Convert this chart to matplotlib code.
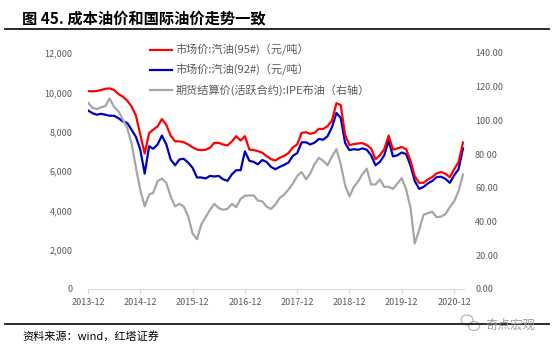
import matplotlib
matplotlib.use('Agg')
import matplotlib.pyplot as plt
import matplotlib.dates as mdates
from matplotlib.lines import Line2D
from matplotlib.patches import Ellipse
from matplotlib.ticker import FuncFormatter
import pandas as pd

plt.rcParams['font.family'] = ['Noto Sans CJK SC', 'DejaVu Sans']

# 月度数据, 2013-12 起
months = pd.date_range('2013-12-01', periods=87, freq='MS')

# 市场价:汽油(95#) 元/吨
gas95 = [10060, 10050, 10070, 10110, 10180, 10200, 10120, 9920, 9780, 9580,
         9280, 8810, 7850, 6890, 7930, 8100, 8270, 8640, 8350, 7800,
         7510, 7510, 7460, 7350, 7210, 7090, 7060, 7080, 7180, 7430,
         7430, 7350, 7300, 7500, 7770, 7550, 7770, 7090, 7060, 7010,
         6930, 6760, 6600, 6530, 6670, 6770, 6910, 7200, 7350, 7940,
         7970, 7890, 7940, 8140, 8140, 8280, 8570, 9450, 9350, 7830,
         7320, 7370, 7400, 7420, 7320, 7150, 6600, 6800, 7110, 7800,
         7080, 7150, 7220, 7110, 6510, 5740, 5400, 5400, 5570, 5690,
         5880, 5950, 5860, 5690, 6090, 6450, 7450]

# 市场价:汽油(92#) 元/吨
gas92 = [9080, 8940, 8860, 8910, 8860, 8810, 8810, 8690, 8520, 8440,
         8100, 7730, 7090, 5870, 7260, 7130, 7350, 7800, 7350, 6590,
         6290, 6590, 6620, 6420, 6170, 5670, 5670, 5620, 5750, 5720,
         5750, 5580, 5500, 5830, 6040, 6040, 7000, 6520, 6460, 6340,
         6560, 6460, 6210, 6090, 6210, 6310, 6430, 6770, 6910, 7460,
         7460, 7350, 7440, 7630, 7590, 7770, 8230, 8950, 8700, 7420,
         7060, 7110, 7080, 7150, 7080, 6800, 6290, 6460, 6800, 7540,
         6740, 6800, 6940, 6860, 6260, 5490, 5090, 5190, 5370, 5490,
         5690, 5710, 5600, 5400, 5780, 6090, 7150]

# 期货结算价(活跃合约):IPE布油 (右轴)
brent = [110.5, 107.5, 106.7, 107.8, 108.5, 113.0, 108.0, 105.5, 100.6, 95.5,
         86.5, 72.0, 58.8, 49.0, 56.0, 57.0, 64.0, 65.5, 63.0, 55.0,
         49.0, 50.5, 48.9, 43.0, 33.0, 29.5, 38.5, 42.5, 47.0, 50.5,
         48.0, 47.0, 47.5, 50.5, 48.5, 53.5, 55.3, 55.5, 55.5, 52.5,
         52.0, 48.9, 47.5, 50.0, 54.0, 56.0, 59.0, 62.6, 67.0, 69.4,
         65.0, 68.4, 74.0, 77.8, 76.0, 73.4, 78.6, 83.0, 74.0, 61.4,
         55.0, 60.6, 64.0, 68.0, 71.4, 62.0, 62.0, 65.0, 60.6, 60.6,
         59.4, 62.6, 65.8, 59.0, 48.0, 27.0, 35.0, 44.0, 45.0, 45.8,
         42.6, 43.0, 44.4, 48.6, 52.0, 58.0, 68.0]

labels = ['市场价:汽油(95#)（元/吨）',
          '市场价:汽油(92#)（元/吨）',
          '期货结算价(活跃合约):IPE布油（右轴）']
tick_dates = pd.date_range('2013-12-01', '2020-12-01', freq='12MS')

W, H = 554, 347
fig = plt.figure(figsize=(W / 100, H / 100), dpi=100)
ax = fig.add_axes([88 / W, 58 / H, 376 / W, 236 / H])
ax2 = ax.twinx()

l1, = ax.plot(months, gas95, color='#ff0000', lw=1.6, zorder=3)
l2, = ax.plot(months, gas92, color='#0000c0', lw=1.6, zorder=2)
l3, = ax2.plot(months, brent, color='#a6a6a6', lw=1.6)

ax.set_xlim(months[0], pd.Timestamp('2021-02-08'))
ax.set_ylim(0, 12000)
ax2.set_ylim(0, 140)
ax.set_yticks(range(0, 12001, 2000))
ax2.set_yticks(range(0, 141, 20))
ax.yaxis.set_major_formatter(FuncFormatter(lambda v, p: f'{v:,.0f}'))
ax2.yaxis.set_major_formatter(FuncFormatter(lambda v, p: f'{v:.2f}'))
ax.set_xticks(tick_dates)
ax.xaxis.set_major_formatter(mdates.DateFormatter('%Y-%m'))

for a in (ax, ax2):
    for s in ('top', 'left', 'right'):
        a.spines[s].set_visible(False)
ax2.spines['bottom'].set_visible(False)
ax.spines['bottom'].set_color('#d9d9d9')

ax.tick_params(axis='x', direction='out', length=3.5, color='#d9d9d9',
               labelsize=6.5, labelcolor='#595959', pad=3)
ax.tick_params(axis='y', length=0, labelsize=6.5, labelcolor='#595959', pad=11)
ax2.tick_params(axis='y', length=0, labelsize=6.5, labelcolor='#595959', pad=8)

fig.legend([l1, l2, l3], labels, loc='upper left',
           bbox_to_anchor=(150 / W, 1 - 44 / H), frameon=False, fontsize=8,
           handlelength=2.0, handletextpad=0.3, labelspacing=0.75,
           borderpad=0, borderaxespad=0, labelcolor='#595959')

fig.text(22 / W, 1 - 18 / H, '图 45. 成本油价和国际油价走势一致',
         fontsize=11, fontweight='bold', va='center', ha='left')
fig.add_artist(Line2D([5 / W, 549 / W], [1 - 28.5 / H] * 2, color='#1a1a1a', lw=1.3))
fig.add_artist(Line2D([5 / W, 549 / W], [1 - 324 / H] * 2, color='#1a1a1a', lw=1.3))
fig.text(22 / W, 1 - 336 / H, '资料来源：wind，红塔证券', fontsize=8, va='center')

# 水印
fig.add_artist(Ellipse((467 / W, 1 - 320 / H), 12 / W, 10 / H, fill=False,
                       ec='#b0b0b0', lw=0.8, transform=fig.transFigure))
fig.add_artist(Ellipse((474 / W, 1 - 326 / H), 11 / W, 9 / H, fill=False,
                       ec='#b0b0b0', lw=0.8, transform=fig.transFigure))
fig.text(485 / W, 1 - 325 / H, '奇点宏观', fontsize=9, color='#a0a0a0', va='center')

fig.savefig('out.png', dpi=100)
